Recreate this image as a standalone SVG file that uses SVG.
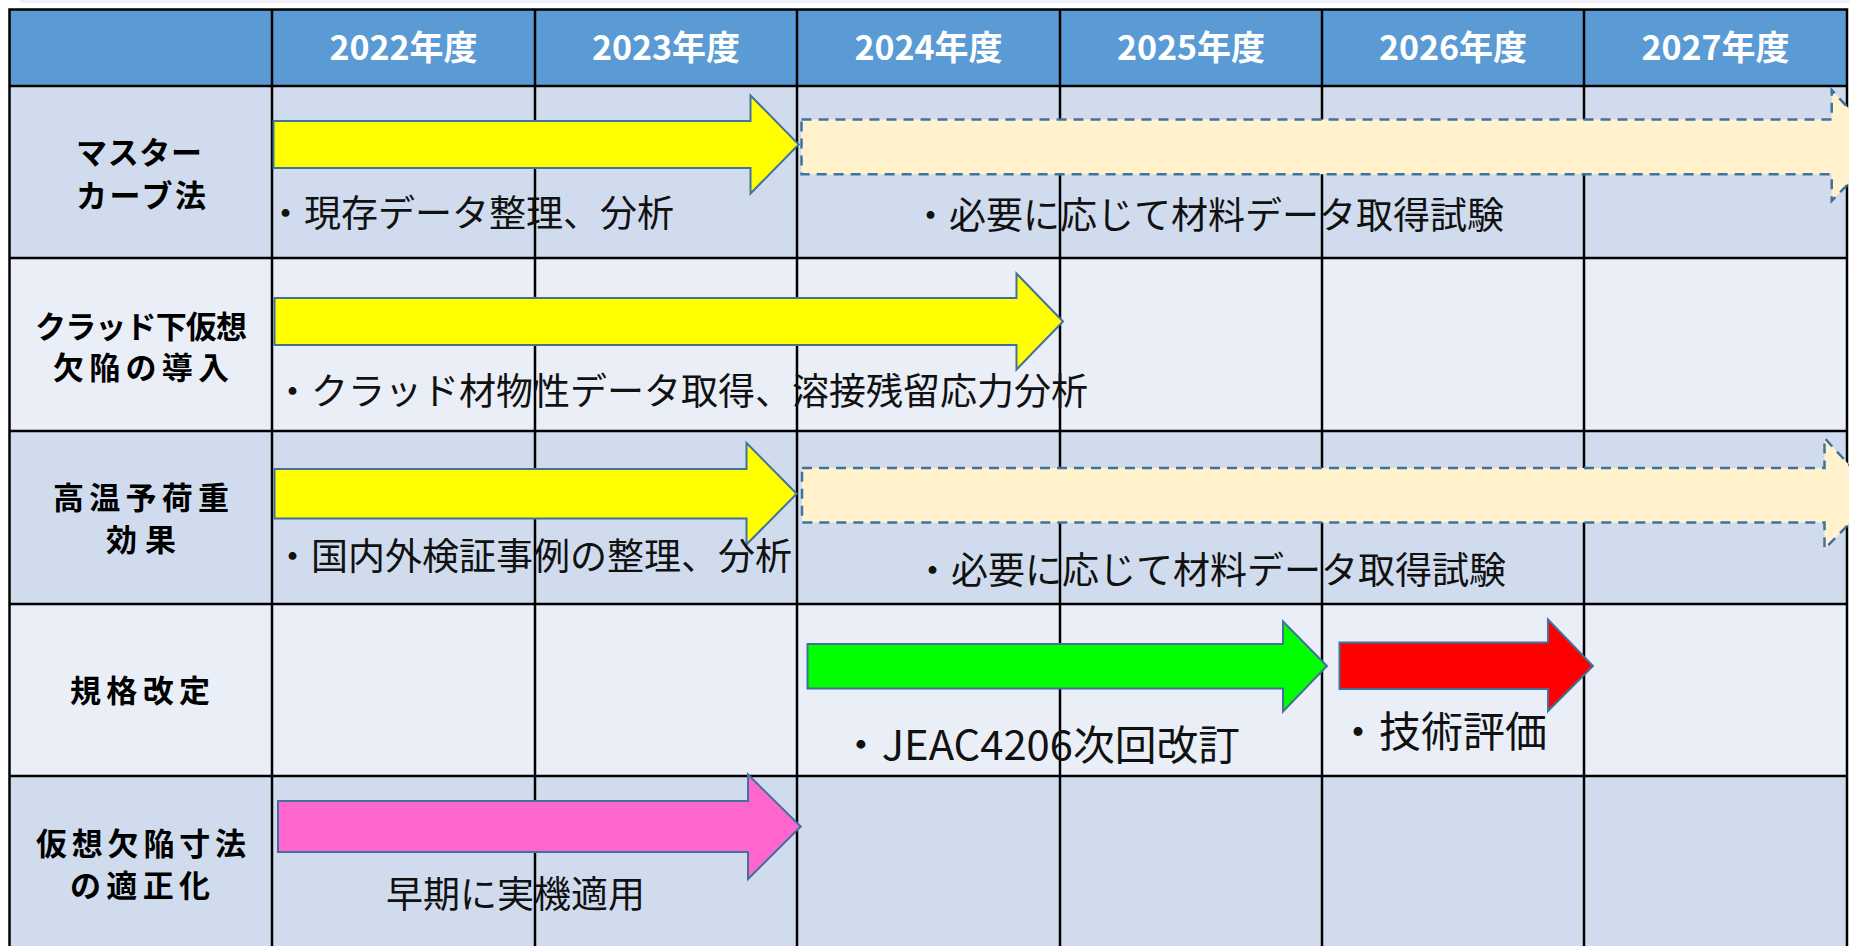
<svg xmlns="http://www.w3.org/2000/svg" width="1849" height="946" viewBox="0 0 1849 946">
<style>
.hd{font-family:"Noto Sans CJK JP","Noto Sans",sans-serif;font-weight:bold;font-size:34px;fill:#fff;text-anchor:middle}
.lb{font-family:"Noto Sans CJK JP","Noto Sans",sans-serif;font-weight:bold;font-size:31px;fill:#000;text-anchor:middle}
.tx{font-family:"Noto Sans CJK JP","Noto Sans",sans-serif;font-size:37px;fill:#111}
.gl{stroke:#000;stroke-width:2.5;fill:none}
.ar{stroke:#41719C;stroke-width:2;stroke-linejoin:miter}
.da{fill:#FFF2CC;stroke:#41719C;stroke-width:2.5;stroke-dasharray:10 7}
</style>
<rect width="1849" height="946" fill="#fff"/>
<rect x="20" y="0" width="1829" height="3" fill="#EEF0F8"/>
<g id="grid">
<rect x="9.5" y="9" width="1837.5" height="77" fill="#5B9BD5"/>
<rect x="9.5" y="86" width="1837.5" height="172" fill="#D0DCEE"/>
<rect x="9.5" y="258" width="1837.5" height="173" fill="#E9EEF7"/>
<rect x="9.5" y="431" width="1837.5" height="173" fill="#D0DCEE"/>
<rect x="9.5" y="604" width="1837.5" height="172" fill="#E9EEF7"/>
<rect x="9.5" y="776" width="1837.5" height="172" fill="#D0DCEE"/>
<path class="gl" d="M272 9V946M535 9V946M797 9V946M1060 9V946M1322 9V946M1584 9V946M9.5 86H1847M9.5 258H1847M9.5 431H1847M9.5 604H1847M9.5 776H1847"/>
<path class="gl" stroke-width="3" d="M9.5 950V9.5H1847V950"/>
</g>
<g id="header">
<text class="hd" x="403.5" y="60">2022年度</text>
<text class="hd" x="666" y="60">2023年度</text>
<text class="hd" x="928.5" y="60">2024年度</text>
<text class="hd" x="1191" y="60">2025年度</text>
<text class="hd" x="1453" y="60">2026年度</text>
<text class="hd" x="1715.5" y="60">2027年度</text>
</g>
<g id="label-master">
<text class="lb" x="139" y="164" textLength="126" lengthAdjust="spacing">マスター</text>
<text class="lb" x="141" y="207" textLength="130" lengthAdjust="spacing">カーブ法</text>
</g>
<g id="label-clad">
<text class="lb" x="141" y="338" textLength="212" lengthAdjust="spacing">クラッド下仮想</text>
<text class="lb" x="141" y="379" textLength="176" lengthAdjust="spacing">欠陥の導入</text>
</g>
<g id="label-preload">
<text class="lb" x="141" y="509" textLength="176" lengthAdjust="spacing">高温予荷重</text>
<text class="lb" x="141" y="551" textLength="70" lengthAdjust="spacing">効果</text>
</g>
<g id="label-standard">
<text class="lb" x="140" y="702" textLength="140" lengthAdjust="spacing">規格改定</text>
</g>
<g id="label-flaw">
<text class="lb" x="141" y="855" textLength="210" lengthAdjust="spacing">仮想欠陥寸法</text>
<text class="lb" x="140" y="897" textLength="140" lengthAdjust="spacing">の適正化</text>
</g>
<g id="connectors"/>
<g id="arrow-master-1">
<path class="ar" fill="#FFFF00" d="M273.5 121H750.5V95.5L798.7 144.5L750.5 193.5V168H273.5Z"/>
</g>
<g id="arrow-master-2">
<path class="da" d="M801.5 119.5H1831.7V90L1884 146.9L1831.7 201V174.3H801.5Z"/>
</g>
<g id="arrow-clad">
<path class="ar" fill="#FFFF00" d="M274.5 298H1016.5V273.5L1063 321.5L1016.5 369.5V345H274.5Z"/>
</g>
<g id="arrow-preload-1">
<path class="ar" fill="#FFFF00" d="M274.5 469H746.5V443L796.7 493.7L746.5 544.5V518.5H274.5Z"/>
</g>
<g id="arrow-preload-2">
<path class="da" d="M802 468H1824.5V438L1877 495.2L1824.5 549V522.5H802Z"/>
</g>
<g id="arrow-standard-1">
<path class="ar" fill="#00FF00" d="M807.5 644H1283V621.5L1327 666L1283 711.5V688.5H807.5Z"/>
</g>
<g id="arrow-standard-2">
<path class="ar" fill="#FF0000" d="M1339.5 642.5H1548V619.5L1593 666L1548 711V689H1339.5Z"/>
</g>
<g id="arrow-flaw">
<path class="ar" fill="#FF66CC" d="M278 801H748V774.5L800.7 826.5L748 879V852H278Z"/>
</g>
<g id="texts">
<text class="tx" x="267" y="227">・現存データ整理、分析</text>
<text class="tx" x="912" y="229">・必要に応じて材料データ取得試験</text>
<text class="tx" x="274" y="405">・クラッド材物性データ取得、溶接残留応力分析</text>
<text class="tx" x="274" y="570">・国内外検証事例の整理、分析</text>
<text class="tx" x="914" y="584">・必要に応じて材料データ取得試験</text>
<text class="tx" x="840" y="760" style="font-size:41px" textLength="400" lengthAdjust="spacingAndGlyphs">・JEAC4206次回改訂</text>
<text class="tx" x="1337" y="747" style="font-size:42px">・技術評価</text>
<text class="tx" x="386" y="908">早期に実機適用</text>
</g>
</svg>
